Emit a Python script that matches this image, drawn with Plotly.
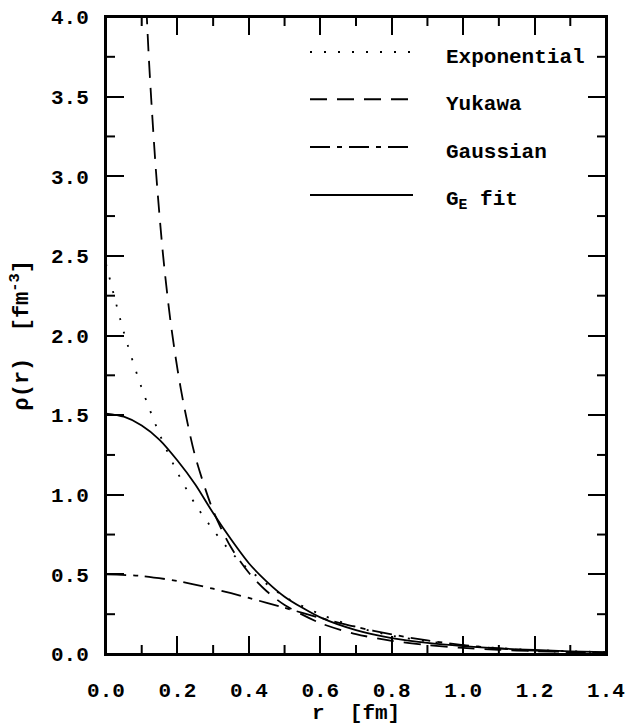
import plotly.graph_objects as go

# ---- data ----
r_exp = [0, 0.05, 0.10, 0.15, 0.20, 0.25, 0.30, 0.35, 0.40, 0.50, 0.60, 0.70, 0.80, 0.90, 1.00, 1.10, 1.20, 1.30, 1.40]
rho_exp = [2.45, 2.02, 1.67, 1.38, 1.14, 0.94, 0.78, 0.64, 0.53, 0.36, 0.25, 0.17, 0.115, 0.08, 0.054, 0.037, 0.025, 0.017, 0.012]

r_yuk = [0.10, 0.12, 0.14, 0.16, 0.18, 0.20, 0.22, 0.25, 0.30, 0.35, 0.40, 0.45, 0.50, 0.60, 0.70, 0.80, 0.90, 1.00, 1.10, 1.20, 1.30, 1.40]
rho_yuk = [4.74, 3.74, 3.03, 2.50, 2.10, 1.79, 1.54, 1.24, 0.90, 0.67, 0.51, 0.394, 0.308, 0.194, 0.125, 0.083, 0.056, 0.038, 0.026, 0.018, 0.0125, 0.0088]

r_gau = [0, 0.1, 0.2, 0.3, 0.4, 0.5, 0.6, 0.7, 0.8, 0.9, 1.0, 1.1, 1.2, 1.3, 1.4]
rho_gau = [0.50, 0.49, 0.458, 0.41, 0.352, 0.29, 0.227, 0.17, 0.123, 0.085, 0.056, 0.035, 0.021, 0.012, 0.007]

r_fit = [0, 0.05, 0.10, 0.15, 0.20, 0.25, 0.30, 0.35, 0.40, 0.45, 0.50, 0.55, 0.60, 0.70, 0.80, 0.90, 1.00, 1.10, 1.20, 1.30, 1.40]
rho_fit = [1.51, 1.49, 1.435, 1.345, 1.215, 1.065, 0.885, 0.72, 0.57, 0.455, 0.36, 0.29, 0.23, 0.15, 0.10, 0.07, 0.05, 0.035, 0.025, 0.017, 0.012]

series_names = ["Exponential", "Yukawa", "Gaussian", "G<sub>E</sub> fit"]
x_title = "r  [fm]"
y_title = "ρ(r)  [fm<sup>-3</sup>]"
x_minor_ticks = [0.1, 0.3, 0.5, 0.7, 0.9, 1.1, 1.3]
y_minor_ticks = [0.25, 0.75, 1.25, 1.75, 2.25, 2.75, 3.25, 3.75]

dashes = ["2px,12px", "17px,10px", "20px,7px,5px,7px", "solid"]
series = [(r_exp, rho_exp), (r_yuk, rho_yuk), (r_gau, rho_gau), (r_fit, rho_fit)]

FONT = "Liberation Mono"
W, H = 626, 727
ML, MR, MT, MB = 106, 20, 17, 73
PW, PH = W - ML - MR, H - MT - MB
MINOR_LEN = 9

fig = go.Figure()
for (xs, ys), name, d in zip(series, series_names, dashes):
    fig.add_trace(go.Scatter(x=xs, y=ys, mode="lines", name=name,
                             line=dict(color="black", width=1.8, dash=d, shape="spline", smoothing=0.8),
                             showlegend=False))

# frame around the plotting area
fig.add_shape(type="rect", xref="x domain", yref="y domain", x0=0, x1=1, y0=0, y1=1,
              line=dict(color="black", width=2), fillcolor="rgba(0,0,0,0)")

# minor ticks on all four sides
tick_line = dict(color="black", width=2)
for v in x_minor_ticks:
    fig.add_shape(type="line", xref="x", yref="y domain", x0=v, x1=v, y0=0, y1=MINOR_LEN / PH, line=tick_line)
    fig.add_shape(type="line", xref="x", yref="y domain", x0=v, x1=v, y0=1, y1=1 - MINOR_LEN / PH, line=tick_line)
for v in y_minor_ticks:
    fig.add_shape(type="line", xref="x domain", yref="y", y0=v, y1=v, x0=0, x1=MINOR_LEN / PW, line=tick_line)
    fig.add_shape(type="line", xref="x domain", yref="y", y0=v, y1=v, x0=1, x1=1 - MINOR_LEN / PW, line=tick_line)

# custom legend (line sample left, label right)
leg_y = [0.945, 0.871, 0.796, 0.7206]
for name, d, ly in zip(series_names, dashes, leg_y):
    fig.add_shape(type="line", xref="paper", yref="paper", x0=0.408, x1=0.614, y0=ly, y1=ly,
                  line=dict(color="black", width=2, dash=d))
    fig.add_annotation(xref="paper", yref="paper", x=0.676, y=ly - 0.009, text="<b>" + name + "</b>",
                       showarrow=False, xanchor="left", yanchor="middle",
                       font=dict(family=FONT, size=21, color="black"))

# axis titles
fig.add_annotation(xref="paper", yref="paper", x=0.5, y=-0.094, text="<b>" + x_title + "</b>",
                   showarrow=False, xanchor="center", yanchor="middle",
                   font=dict(family=FONT, size=21, color="black"))
fig.add_annotation(xref="paper", yref="paper", x=-0.172, y=0.5, text="<b>" + y_title + "</b>",
                   showarrow=False, xanchor="center", yanchor="middle", textangle=-90,
                   font=dict(family=FONT, size=22, color="black"))

axis_common = dict(showline=True, linecolor="black", linewidth=2, mirror="ticks",
                   ticks="inside", ticklen=18, tickwidth=2, tickcolor="black",
                   showgrid=False, zeroline=False, automargin=False, tickformat=".1f",
                   ticklabeloverflow="allow",
                   tickfont=dict(family=FONT, size=21, color="black", weight="bold"))

fig.update_layout(
    xaxis=dict(range=[0, 1.4], tickmode="linear", tick0=0, dtick=0.2, ticklabelstandoff=16, **axis_common),
    yaxis=dict(range=[0, 4.0], tickmode="linear", tick0=0, dtick=0.5, ticklabelstandoff=11, **axis_common),
    width=W, height=H, margin=dict(l=ML, r=MR, t=MT, b=MB),
    plot_bgcolor="white", paper_bgcolor="white", showlegend=False)

fig.write_html("out.html", config={"displayModeBar": False},
               post_script="document.body.style.margin='0';document.body.style.overflow='hidden';")
